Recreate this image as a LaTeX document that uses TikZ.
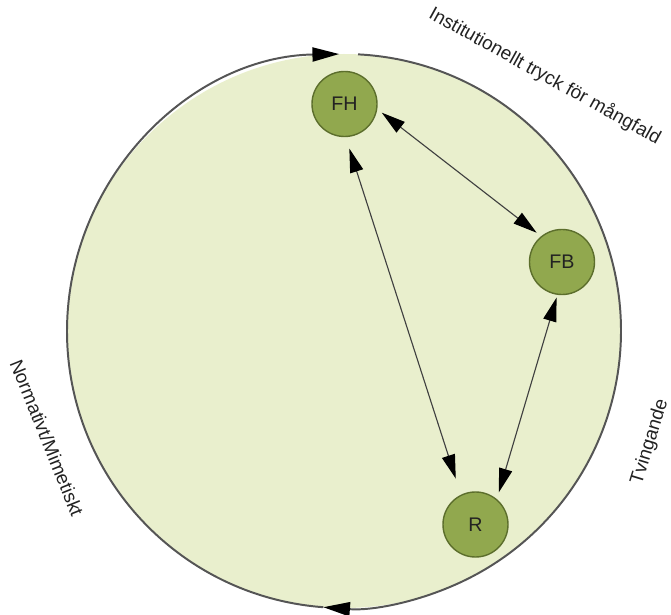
\documentclass[tikz,border=0pt]{standalone}
\usepackage{fontspec}
\setmainfont{Liberation Sans}
\usetikzlibrary{arrows.meta}
\definecolor{paleolive}{RGB}{233,239,205}
\definecolor{olivefill}{RGB}{145,168,78}
\definecolor{oliveline}{RGB}{92,110,44}
\definecolor{rimgray}{RGB}{85,85,85}
\definecolor{textgray}{RGB}{34,34,34}
\tikzset{
    actor/.style={circle, draw=oliveline, fill=olivefill, line width=1pt,
        minimum size=1.625cm, inner sep=0pt, text=textgray,
        font=\fontsize{14}{16}\selectfont},
    link/.style={draw=black!75, line width=0.8pt,
        {Triangle[length=17pt,width=9.5pt,color=black]}-{Triangle[length=17pt,width=9.5pt,color=black]}},
    rim/.style={draw=rimgray, line width=1.4pt, -{Triangle[length=19pt,width=10pt,color=black]}},
    pressure/.style={text=textgray, font=\fontsize{13.5}{16}\selectfont}
}
\begin{document}
\begin{tikzpicture}[x=0.025cm, y=0.025cm]
        \useasboundingbox (0,0) rectangle (671,614);
        
        % Field
        \coordinate (mid) at (344,283);
        \fill[paleolive] (mid) circle [radius=277];
        \draw[rim] (mid) ++(265.7:277) arc [start angle=265.7, end angle=91, radius=277];
        \draw[rim] (mid) ++(87.1:277) arc [start angle=87.1, end angle=-94.3, radius=277];
        
        % Actors
        \node[actor] (FH) at (344.5,510) {FH};
        \node[actor] (FB) at (562,352) {FB};
        \node[actor] (R) at (475.5,89.5) {R};
        
        % Relations
        \draw[link, shorten <=4pt, shorten >=4pt] (FH.-9) -- (FB.129);
        \draw[link, shorten <=8.5pt, shorten >=12pt] (FH.-88) -- (R.116);
        \draw[link, shorten <=2pt, shorten >=5pt] (FB.262) -- (R.50);
        
        % Pressures
        \node[pressure, rotate=-29] (inst) at (545,538) {Institutionellt tryck för mångfald};
        \node[pressure, rotate=-68] (norm) at (47,176) {Normativt/Mimetiskt};
        \node[pressure, rotate=73] (tving) at (650,172) {Tvingande};
        
    \end{tikzpicture}
\end{document}
